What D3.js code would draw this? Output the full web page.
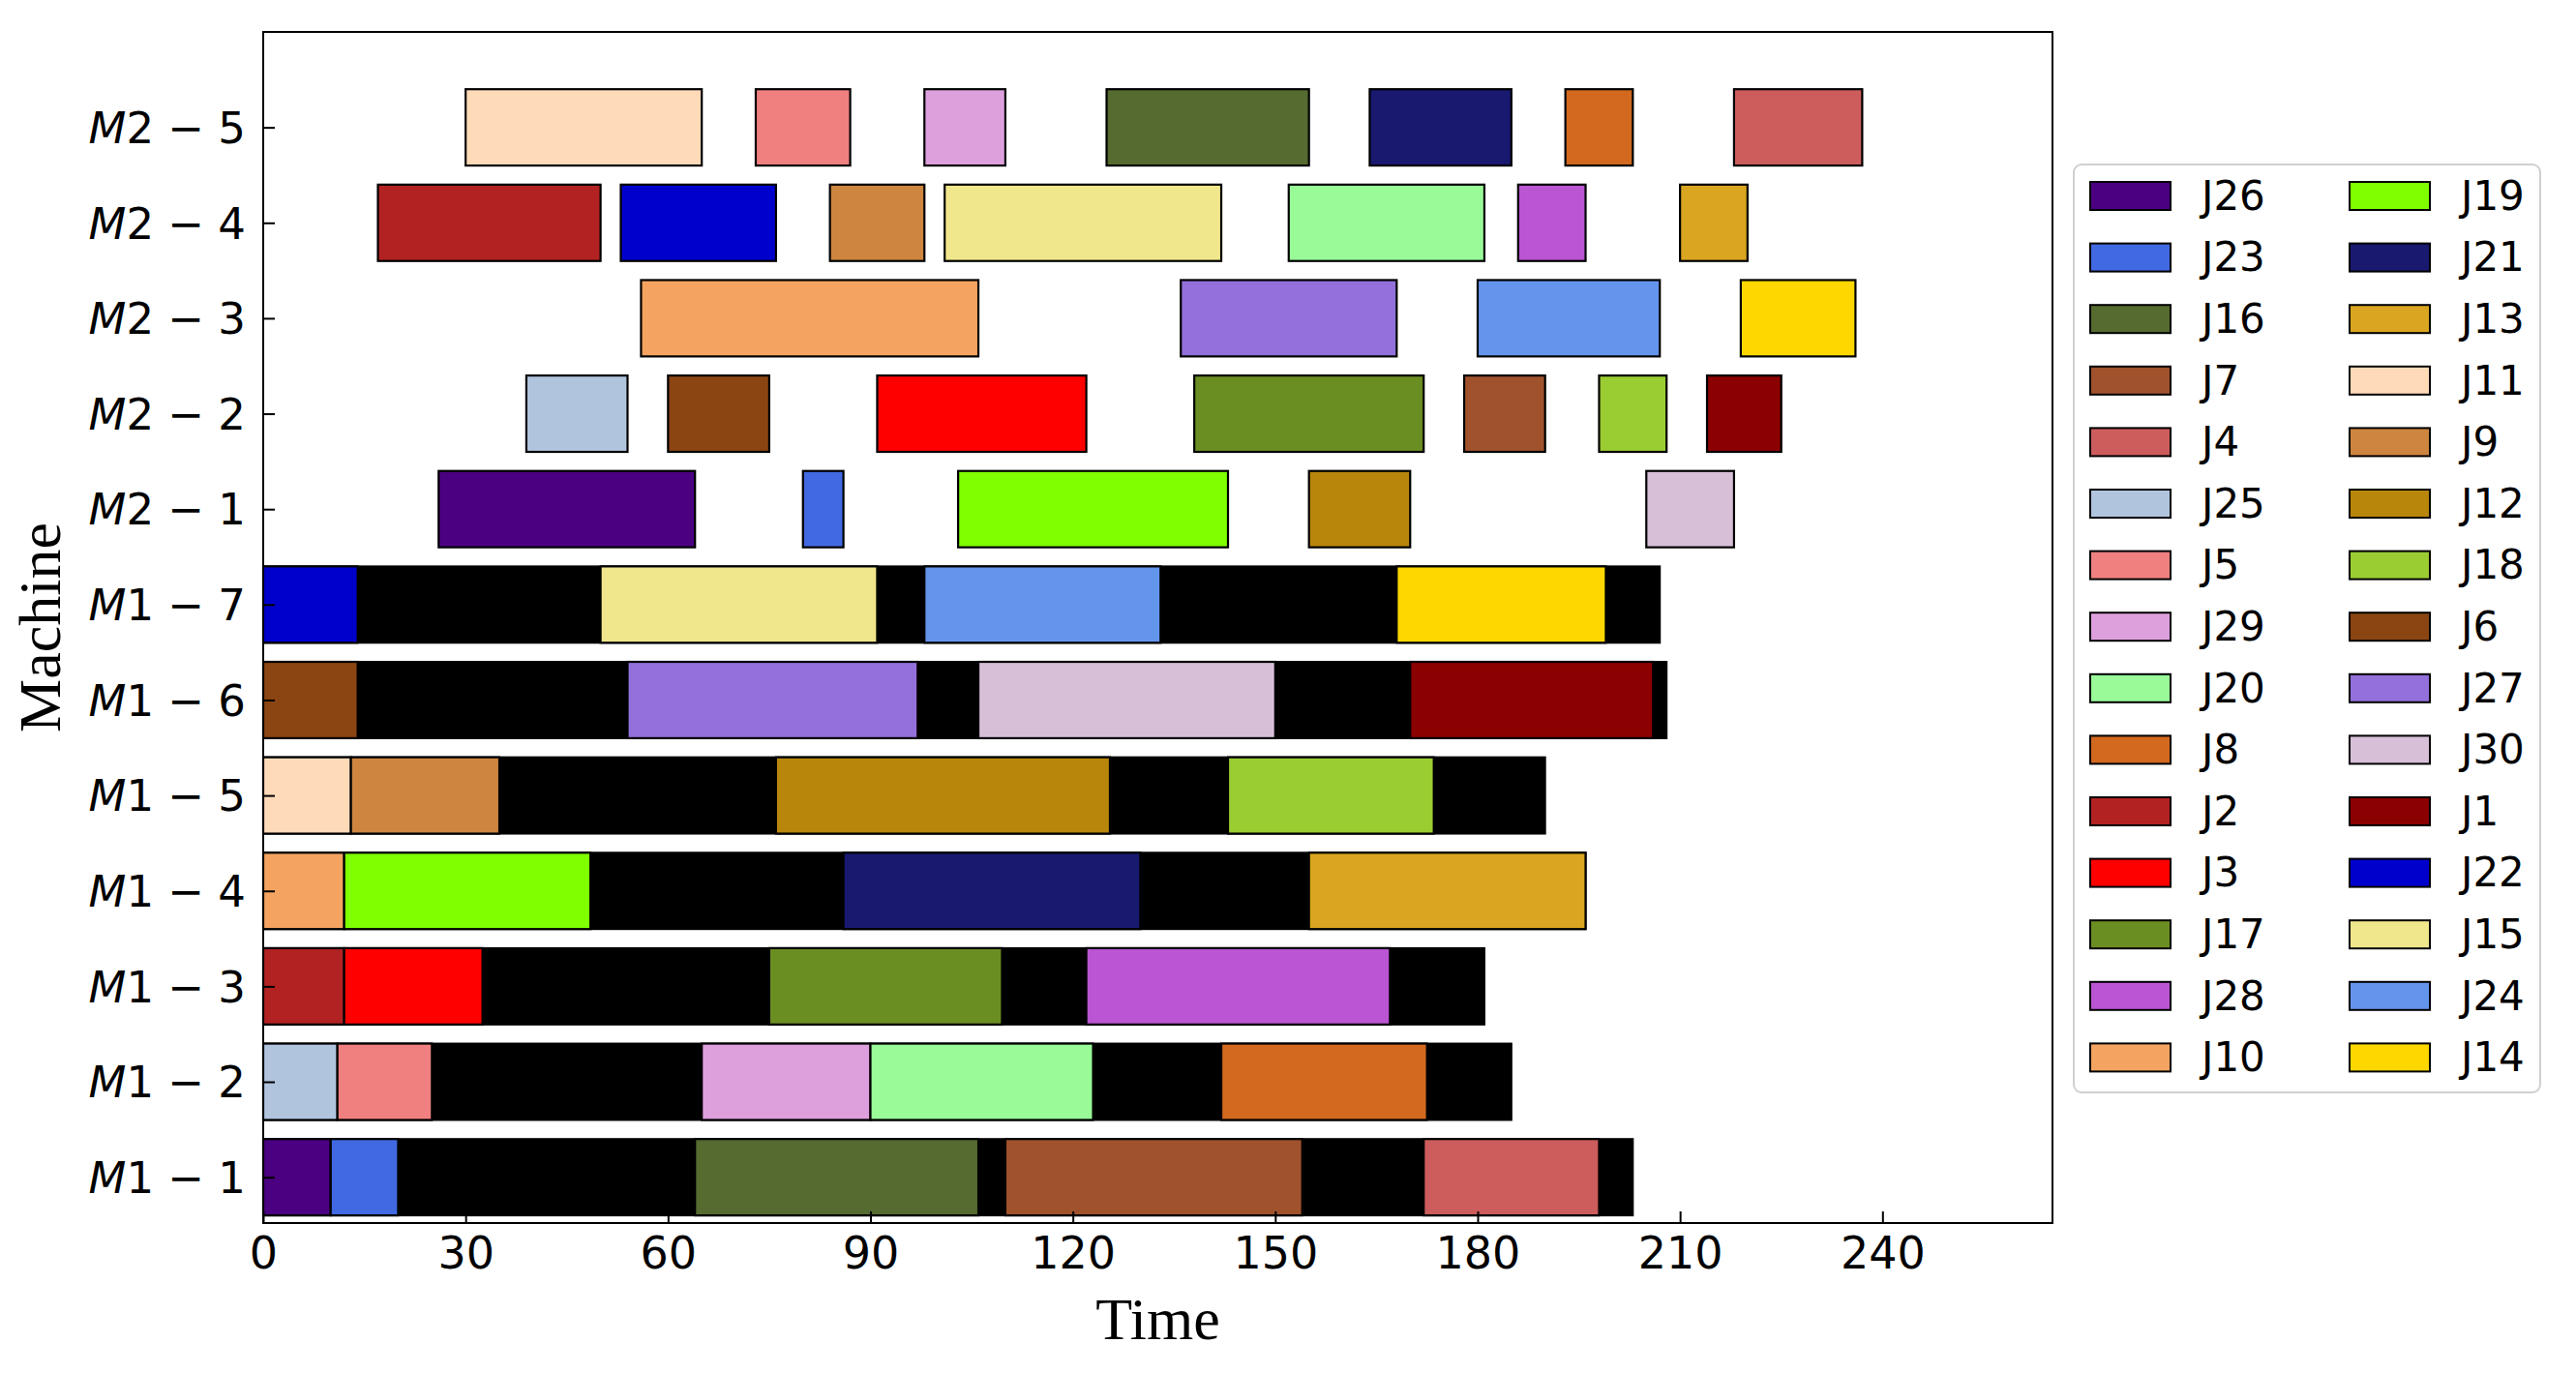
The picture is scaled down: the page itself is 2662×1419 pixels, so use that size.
<!DOCTYPE html>
<html><head><meta charset="utf-8">
<script src="https://cdn.jsdelivr.net/npm/d3@7"></script>
<style>body{margin:0;background:#fff}</style></head>
<body><svg id="c" width="2662" height="1419"></svg>
<script>
const machines = ["M1-1","M1-2","M1-3","M1-4","M1-5","M1-6","M1-7","M2-1","M2-2","M2-3","M2-4","M2-5"];
const makespans = {"M1-1":203,"M1-2":185,"M1-3":181,"M1-4":196,"M1-5":190,"M1-6":208,"M1-7":207};
// [machine, job, start, end]
const ops = [
 ["M1-1","J26",0,10],["M1-1","J23",10,20],["M1-1","J16",64,106],["M1-1","J7",110,154],["M1-1","J4",172,198],
 ["M1-2","J25",0,11],["M1-2","J5",11,25],["M1-2","J29",65,90],["M1-2","J20",90,123],["M1-2","J8",142,172.5],
 ["M1-3","J2",0,12],["M1-3","J3",12,32.5],["M1-3","J17",75,109.5],["M1-3","J28",122,167],
 ["M1-4","J10",0,12],["M1-4","J19",12,48.5],["M1-4","J21",86,130],["M1-4","J13",155,196],
 ["M1-5","J11",0,13],["M1-5","J9",13,35],["M1-5","J12",76,125.5],["M1-5","J18",143,173.5],
 ["M1-6","J6",0,14],["M1-6","J27",54,97],["M1-6","J30",106,150],["M1-6","J1",170,206],
 ["M1-7","J22",0,14],["M1-7","J15",50,91],["M1-7","J24",98,133],["M1-7","J14",168,199],
 ["M2-1","J26",26,64],["M2-1","J23",80,86],["M2-1","J19",103,143],["M2-1","J12",155,170],["M2-1","J30",205,218],
 ["M2-2","J25",39,54],["M2-2","J6",60,75],["M2-2","J3",91,122],["M2-2","J17",138,172],["M2-2","J7",178,190],["M2-2","J18",198,208],["M2-2","J1",214,225],
 ["M2-3","J10",56,106],["M2-3","J27",136,168],["M2-3","J24",180,207],["M2-3","J14",219,236],
 ["M2-4","J2",17,50],["M2-4","J22",53,76],["M2-4","J9",84,98],["M2-4","J15",101,142],["M2-4","J20",152,181],["M2-4","J28",186,196],["M2-4","J13",210,220],
 ["M2-5","J11",30,65],["M2-5","J5",73,87],["M2-5","J29",98,110],["M2-5","J16",125,155],["M2-5","J21",164,185],["M2-5","J8",193,203],["M2-5","J4",218,237]
];
const legendJobs = ["J26","J23","J16","J7","J4","J25","J5","J29","J20","J8","J2","J3","J17","J28","J10",
                    "J19","J21","J13","J11","J9","J12","J18","J6","J27","J30","J1","J22","J15","J24","J14"];
const jobColors = {J26:"#4b0082",J23:"#4169e1",J16:"#556b2f",J7:"#a0522d",J4:"#cd5c5c",J25:"#b0c4de",J5:"#f08080",
 J29:"#dda0dd",J20:"#98fb98",J8:"#d2691e",J2:"#b22222",J3:"#ff0000",J17:"#6b8e23",J28:"#ba55d3",J10:"#f4a460",
 J19:"#7fff00",J21:"#191970",J13:"#daa520",J11:"#ffdab9",J9:"#cd853f",J12:"#b8860b",J18:"#9acd32",J6:"#8b4513",
 J27:"#9370db",J30:"#d8bfd8",J1:"#8b0000",J22:"#0000cd",J15:"#f0e68c",J24:"#6495ed",J14:"#ffd700"};
const xTicks = [0,30,60,90,120,150,180,210,240];

const svg = d3.select("#c");
const L=272, R=2121, T=33, B=1264;
const x = d3.scaleLinear().domain([0,265.2]).range([L,R]);
const y = d3.scaleLinear().domain([-0.48,12.0]).range([B,T]);
const bh = y(0)-y(0.8);
const yi = m => machines.indexOf(m);

const g = svg.append("g");
g.selectAll(".bg").data(Object.entries(makespans)).join("rect")
 .attr("x",x(0)).attr("width",d=>x(d[1])-x(0))
 .attr("y",d=>y(yi(d[0])+0.4)).attr("height",bh)
 .attr("fill","#000").attr("stroke","#000").attr("stroke-width",2);
g.selectAll(".op").data(ops).join("rect")
 .attr("x",d=>x(d[2])).attr("width",d=>x(d[3])-x(d[2]))
 .attr("y",d=>y(yi(d[0])+0.4)).attr("height",bh)
 .attr("fill",d=>jobColors[d[1]]).attr("stroke","#000").attr("stroke-width",2.2);

svg.append("rect").attr("x",L).attr("y",T).attr("width",R-L).attr("height",B-T)
 .attr("fill","none").attr("stroke","#000").attr("stroke-width",2);

const xa = svg.append("g").attr("transform",`translate(0,${B})`)
 .call(d3.axisBottom(x).tickValues(xTicks).tickSize(-12).tickPadding(14).tickFormat(d3.format("d")));
xa.select(".domain").remove();
xa.selectAll("line").attr("stroke-width",2);
xa.selectAll("text").attr("font-family","DejaVu Sans").attr("font-size",46).attr("fill","#000");

const ya = svg.append("g").attr("transform",`translate(${L},0)`)
 .call(d3.axisLeft(y).tickValues(d3.range(machines.length)).tickSize(-12).tickPadding(16).tickFormat(""));
ya.select(".domain").remove();
ya.selectAll("line").attr("stroke-width",2);
ya.selectAll(".tick").each(function(d){
  const [a,b] = machines[d].split("-");
  const t = d3.select(this).append("text").attr("x",-18).attr("dy","0.35em").attr("text-anchor","end")
   .attr("font-family","DejaVu Sans").attr("font-size",45).attr("fill","#000");
  t.append("tspan").attr("font-style","italic").text("M");
  t.append("tspan").text(a.slice(1)+" − "+b);
});

svg.append("text").attr("x",(L+R)/2).attr("y",1384).attr("text-anchor","middle")
 .attr("font-family","Liberation Serif").attr("font-size",62).text("Time");
svg.append("text").attr("transform",`translate(62,${(T+B)/2}) rotate(-90)`).attr("text-anchor","middle")
 .attr("font-family","Liberation Serif").attr("font-size",62).text("Machine");

// legend
const lg = svg.append("g");
lg.append("rect").attr("x",2143).attr("y",170).attr("width",482).attr("height",959).attr("rx",8)
 .attr("fill","#fff").attr("stroke","#d0d0d0").attr("stroke-width",2);
const items = lg.selectAll(".li").data(legendJobs).join("g")
 .attr("transform",(d,i)=>`translate(${i<15?2160:2428},${202+(i%15)*63.6})`);
items.append("rect").attr("x",0).attr("y",-14).attr("width",83).attr("height",29)
 .attr("fill",d=>jobColors[d]).attr("stroke","#000").attr("stroke-width",2);
items.append("text").attr("x",115).attr("dy","0.35em").attr("font-family","DejaVu Sans")
 .attr("font-size",42).attr("fill","#000").text(d=>d);
</script></body></html>
